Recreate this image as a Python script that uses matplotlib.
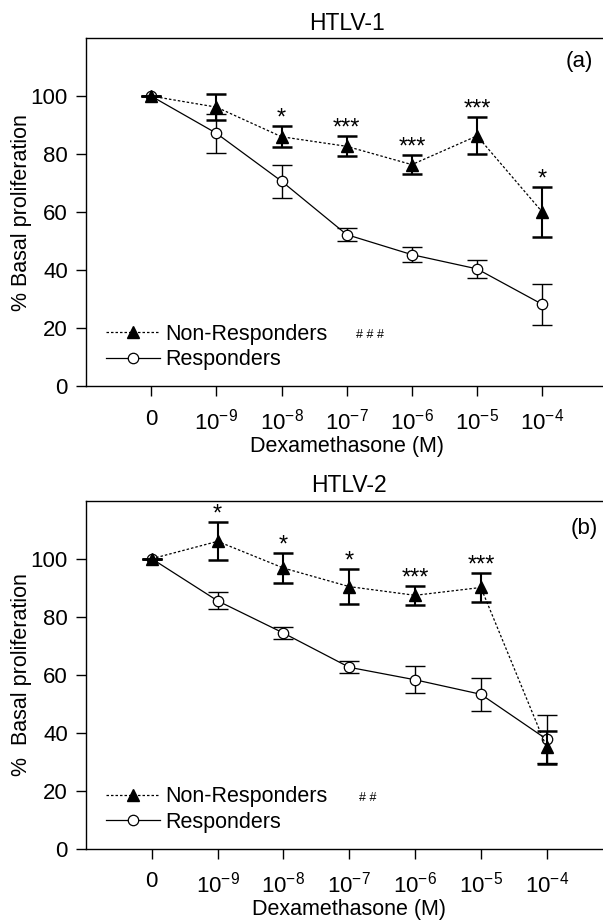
import matplotlib

matplotlib.use("Agg")
import matplotlib.pyplot as plt

plt.rcParams["font.family"] = ["Liberation Sans", "DejaVu Sans"]
plt.rcParams["mathtext.fontset"] = "custom"
plt.rcParams["mathtext.rm"] = "Liberation Sans"
plt.rcParams["mathtext.it"] = "Liberation Sans:italic"
plt.rcParams["mathtext.bf"] = "Liberation Sans:bold"

# doses (categorical axis)
doses = ["0", "$10^{-9}$", "$10^{-8}$", "$10^{-7}$", "$10^{-6}$", "$10^{-5}$", "$10^{-4}$"]

# HTLV-1
h1_nonresp = [100, 96.2, 86.0, 82.7, 76.4, 86.3, 60.1]
h1_nonresp_err = [0, 4.6, 3.6, 3.5, 3.4, 6.4, 8.7]
h1_resp = [100, 87.2, 70.7, 52.3, 45.4, 40.5, 28.3]
h1_resp_err = [0, 6.8, 5.7, 2.2, 2.6, 3.2, 7.0]
h1_stars = ["", "", "*", "***", "***", "***", "*"]

# HTLV-2
h2_nonresp = [100, 106.0, 96.8, 90.4, 87.4, 90.1, 35.0]
h2_nonresp_err = [0, 6.6, 5.2, 6.1, 3.3, 4.9, 5.8]
h2_resp = [100, 85.5, 74.4, 62.6, 58.3, 53.3, 37.8]
h2_resp_err = [0, 2.9, 2.0, 2.1, 4.7, 5.6, 8.3]
h2_stars = ["", "*", "*", "*", "***", "***", ""]

FS = 16


def panel(ax, title, tag, tag_y, nonresp, nonresp_err, resp, resp_err, stars, hashes, ylabel):
    x = list(range(len(doses)))

    ax.errorbar(x, resp, yerr=resp_err, fmt="none", ecolor="black",
                elinewidth=1.0, capsize=7, capthick=1.0, zorder=1)
    (l_resp,) = ax.plot(x, resp, "-", color="black", lw=0.9, marker="o", ms=7.5,
                        mfc="white", mec="black", mew=0.9, zorder=2,
                        label="Responders")
    ax.errorbar(x, nonresp, yerr=nonresp_err, fmt="none", ecolor="black",
                elinewidth=1.5, capsize=7, capthick=1.8, zorder=3)
    (l_non,) = ax.plot(x, nonresp, color="black", lw=0.9, ls=(0, (2, 1.6)),
                       marker="^", ms=8, mfc="black", mec="black", zorder=4,
                       label="Non-Responders")

    for xi, m, e, s in zip(x, nonresp, nonresp_err, stars):
        if s:
            ax.annotate(s, (xi, m + e), xytext=(0, 1), textcoords="offset points",
                        ha="center", va="baseline", fontsize=17)

    ax.set_xlim(-1, 7)
    ax.set_ylim(0, 120)
    ax.set_xticks(x)
    ax.set_xticklabels(doses)
    ax.set_yticks([0, 20, 40, 60, 80, 100])
    ax.tick_params(axis="x", length=7, width=1.0, pad=9, labelsize=FS)
    ax.tick_params(axis="y", length=7, width=1.0, pad=6, labelsize=FS)
    for sp in ax.spines.values():
        sp.set_linewidth(1.0)
    ax.spines["right"].set_visible(False)

    ax.set_title(title, fontsize=16.5, pad=6)
    ax.set_xlabel("Dexamethasone (M)", fontsize=15.5, labelpad=1)
    ax.set_ylabel(ylabel, fontsize=15.5, labelpad=-1)
    ax.text(6.57, tag_y, tag, fontsize=16, ha="center", va="center")

    ax.legend(handles=[l_non, l_resp], loc="center left",
              bbox_to_anchor=(0.038, 0.113), frameon=False, fontsize=15.5,
              handlelength=2.5, handletextpad=0.25, labelspacing=0.2,
              borderpad=0, borderaxespad=0, numpoints=1)
    ax.text(3.15, 17.6, hashes, fontsize=9, ha="left", va="center")


fig = plt.figure(figsize=(6.03, 9.21), dpi=100)
ax1 = fig.add_axes([86 / 603, 1 - 386.5 / 921, 521.4 / 603, 348.5 / 921])
ax2 = fig.add_axes([86 / 603, 1 - 849 / 921, 526.5 / 603, 348.3 / 921])

panel(ax1, "HTLV-1", "(a)", 112, h1_nonresp, h1_nonresp_err, h1_resp, h1_resp_err,
      h1_stars, "# # #", "% Basal proliferation")
panel(ax2, "HTLV-2", "(b)", 110.5, h2_nonresp, h2_nonresp_err, h2_resp, h2_resp_err,
      h2_stars, "# #", "%  Basal proliferation")

fig.savefig("out.png", dpi=100)
